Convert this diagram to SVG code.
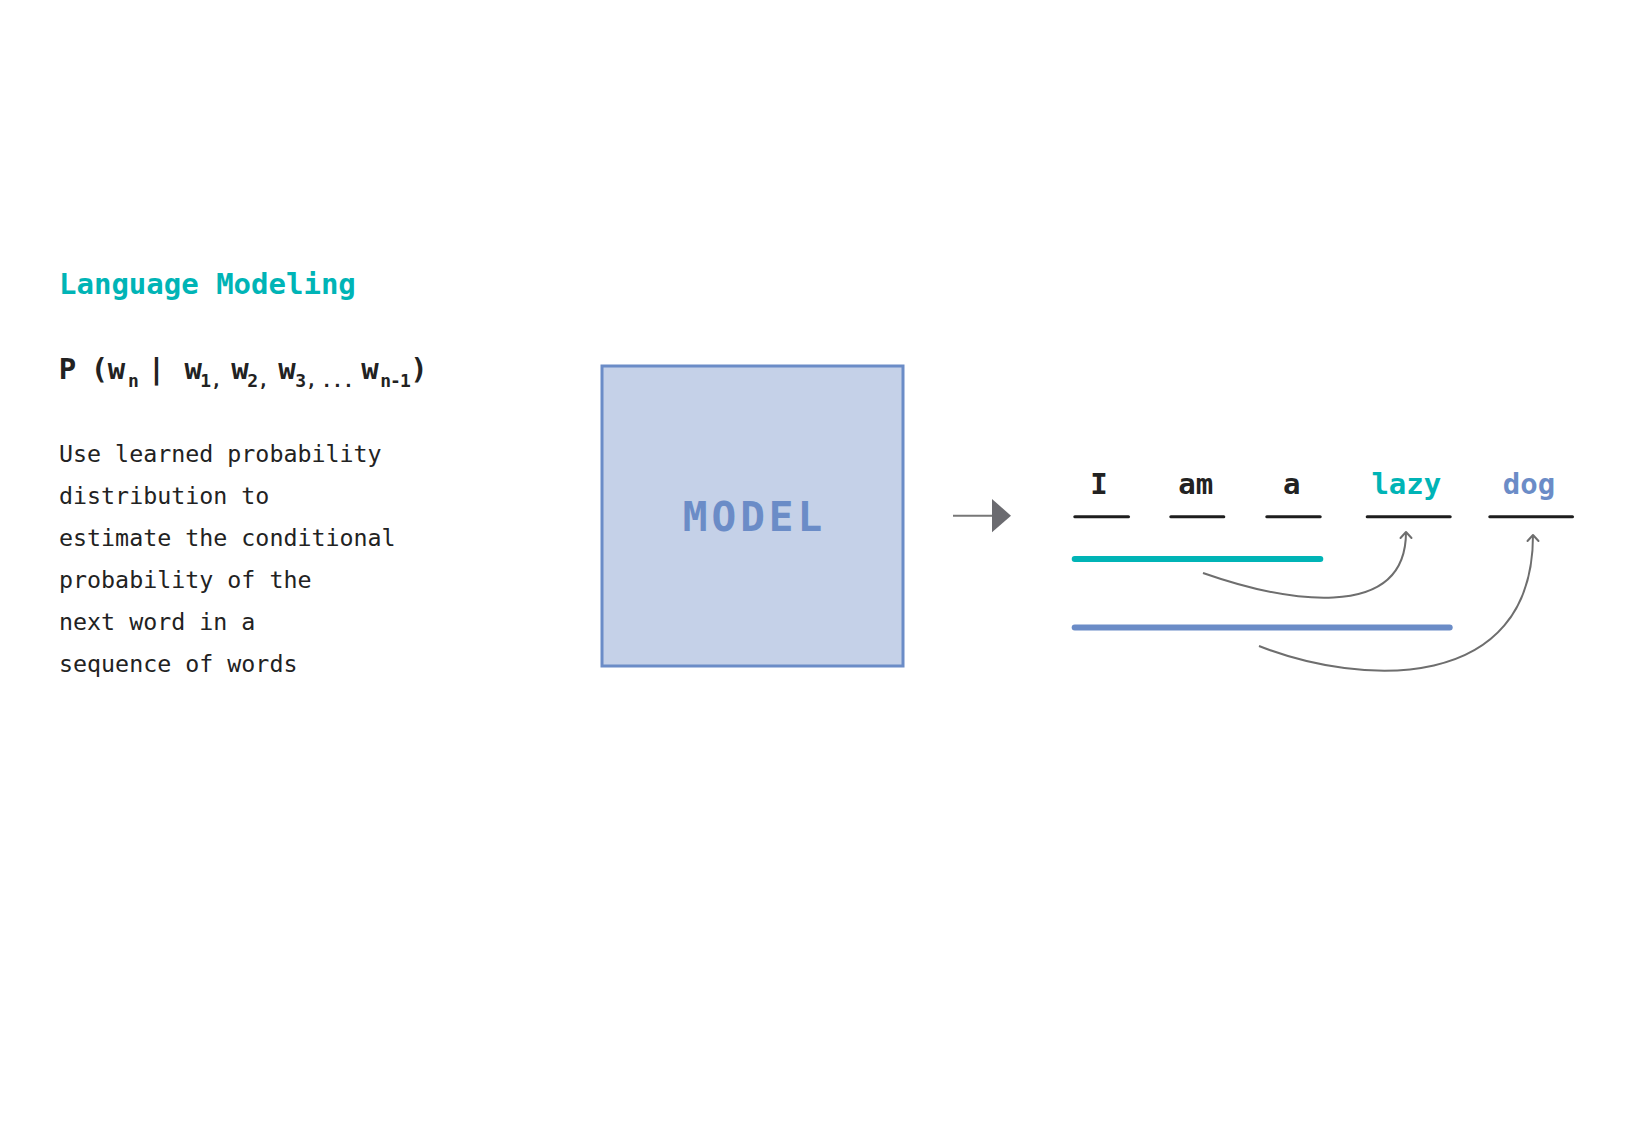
<svg xmlns="http://www.w3.org/2000/svg" width="1633" height="1126" viewBox="0 0 1633 1126">
<defs>
<style>
.mono{font-family:"DejaVu Sans Mono","Liberation Mono",monospace}
.b{font-weight:bold}
.title{font-size:29px;fill:#00b4b6}
.f{font-size:29px;fill:#222}
.sub{font-size:18px;fill:#222}
.body{font-size:23.3px;fill:#222}
.word{font-size:29px;font-weight:bold;text-anchor:middle}
.ul{stroke:#1e1e1e;stroke-width:3;stroke-linecap:round}
.bar{stroke-width:6;stroke-linecap:round}
.curve{fill:none;stroke:#6e6e6e;stroke-width:2;marker-end:url(#chev)}
</style>
<marker id="chev" markerUnits="userSpaceOnUse" markerWidth="20" markerHeight="20" viewBox="-10 -10 20 20" refX="0" refY="0" orient="auto">
<path d="M-6,-5.5 L0,0 L-6,5.5" fill="none" stroke="#6e6e6e" stroke-width="2" stroke-linecap="round" stroke-linejoin="round"/>
</marker>
</defs>
<rect width="1633" height="1126" fill="#ffffff"/>

<g id="title">
<text class="mono b title" x="59" y="294">Language Modeling</text>
</g>

<g id="formula" class="mono b">
<text class="f" x="67.5" y="379" text-anchor="middle">P</text>
<text class="f" x="99.5" y="379" text-anchor="middle">(</text>
<text class="f" x="116.5" y="379" text-anchor="middle">w</text>
<text class="sub" x="133.5" y="387" text-anchor="middle">n</text>
<text class="f" x="156.5" y="379" text-anchor="middle">|</text>
<text class="f" x="193.3" y="379" text-anchor="middle">w</text>
<text class="sub" x="211" y="387" text-anchor="middle">1,</text>
<text class="f" x="240" y="379" text-anchor="middle">w</text>
<text class="sub" x="258" y="387" text-anchor="middle">2,</text>
<text class="f" x="287" y="379" text-anchor="middle">w</text>
<text class="sub" x="306" y="387" text-anchor="middle">3,</text>
<text class="sub" x="337.5" y="387" text-anchor="middle">...</text>
<text class="f" x="370" y="379" text-anchor="middle">w</text>
<text class="sub" x="395" y="387" text-anchor="middle" font-size="17" letter-spacing="-1">n-1</text>
<text class="f" x="419" y="379" text-anchor="middle">)</text>
</g>

<g id="description" class="mono body">
<text class="body" x="59" y="462">Use learned probability</text>
<text class="body" x="59" y="504">distribution to</text>
<text class="body" x="59" y="546">estimate the conditional</text>
<text class="body" x="59" y="588">probability of the</text>
<text class="body" x="59" y="630">next word in a</text>
<text class="body" x="59" y="672">sequence of words</text>
</g>

<g id="model">
<rect x="602" y="366" width="301" height="300" fill="#c5d1e8" stroke="#6b8cc7" stroke-width="3"/>
<text class="mono b" x="754.5" y="531" text-anchor="middle" font-size="41" letter-spacing="4" fill="#6b8cc7">MODEL</text>
</g>

<g id="connectors">
<line x1="953" y1="515.7" x2="994" y2="515.7" stroke="#777777" stroke-width="2"/>
<polygon points="992,499 1011,515.7 992,532.3" fill="#6b6b70"/>
<path class="curve" d="M1203,573 C1280,600 1406,625 1406,532"/>
<path class="curve" d="M1259,646 C1360,686 1533,695 1533,535"/>
</g>

<g id="w-I">
<text class="mono word" x="1099" y="494" fill="#222">I</text>
<line class="ul" x1="1074.8" y1="516.7" x2="1128.5" y2="516.7"/>
</g>
<g id="w-am">
<text class="mono word" x="1195.8" y="494" fill="#222">am</text>
<line class="ul" x1="1170.8" y1="516.7" x2="1223.8" y2="516.7"/>
</g>
<g id="w-a">
<text class="mono word" x="1291.7" y="494" fill="#222">a</text>
<line class="ul" x1="1266.8" y1="516.7" x2="1320.2" y2="516.7"/>
</g>
<g id="w-lazy">
<text class="mono word" x="1406.3" y="494" fill="#00b4b6">lazy</text>
<line class="ul" x1="1367.2" y1="516.7" x2="1450.2" y2="516.7"/>
</g>
<g id="w-dog">
<text class="mono word" x="1529" y="494" fill="#6b8cc7">dog</text>
<line class="ul" x1="1489.8" y1="516.7" x2="1572.5" y2="516.7"/>
</g>

<g id="context-bars">
<line class="bar" x1="1074.7" y1="559" x2="1320.3" y2="559" stroke="#00b4b6"/>
<line class="bar" x1="1074.7" y1="627.5" x2="1449.7" y2="627.5" stroke="#6b8cc7"/>
</g>
</svg>
